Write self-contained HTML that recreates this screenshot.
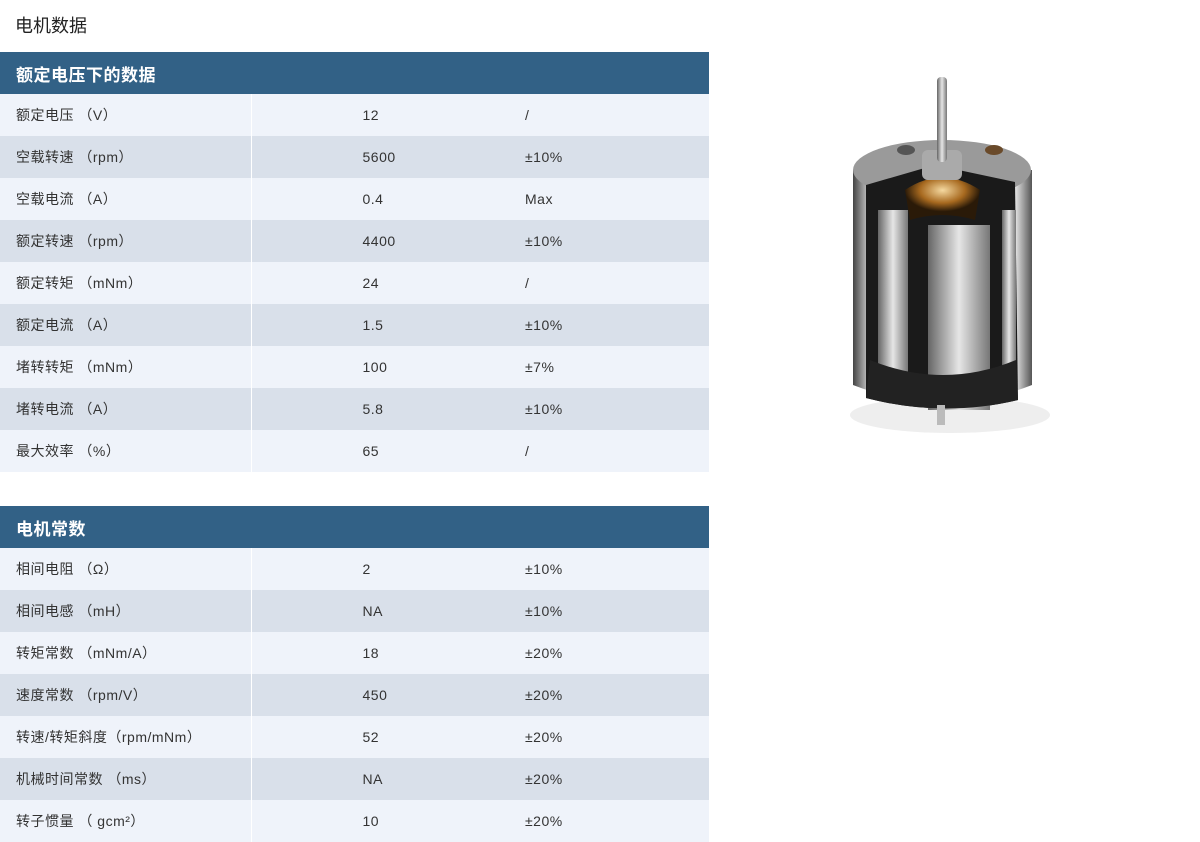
<!DOCTYPE html>
<html><head><meta charset="utf-8"><style>
body{margin:0;width:1200px;height:842px;background:#fff;font-family:"Liberation Sans","Noto Sans CJK SC",sans-serif;position:relative;overflow:hidden}
.t{position:absolute;left:15px;top:12px;font-size:18px;color:#222}
table{position:absolute;left:0;width:709px;border-collapse:collapse;font-size:14px;color:#333;letter-spacing:0.5px;table-layout:fixed}
th{background:#326186;color:#fff;text-align:left;font-size:17px;font-weight:bold;height:42px;padding:0 0 0 16px}
td{height:42px;padding:0;vertical-align:middle;line-height:40px}
td.a{padding-left:16px;border-right:1px solid #fff}
td.b{padding-left:111px}
tr.l td{background:#eff3fa}
tr.d td{background:#d9e0ea}
</style></head><body>
<div class="t">电机数据</div>
<table style="top:52px">
<colgroup><col style="width:251px"><col style="width:274px"><col style="width:184px"></colgroup>
<tr><th colspan="3">额定电压下的数据</th></tr>
<tr class="l"><td class="a">额定电压 （V）</td><td class="b">12</td><td>/</td></tr>
<tr class="d"><td class="a">空载转速 （rpm）</td><td class="b">5600</td><td>±10%</td></tr>
<tr class="l"><td class="a">空载电流 （A）</td><td class="b">0.4</td><td>Max</td></tr>
<tr class="d"><td class="a">额定转速 （rpm）</td><td class="b">4400</td><td>±10%</td></tr>
<tr class="l"><td class="a">额定转矩 （mNm）</td><td class="b">24</td><td>/</td></tr>
<tr class="d"><td class="a">额定电流 （A）</td><td class="b">1.5</td><td>±10%</td></tr>
<tr class="l"><td class="a">堵转转矩 （mNm）</td><td class="b">100</td><td>±7%</td></tr>
<tr class="d"><td class="a">堵转电流 （A）</td><td class="b">5.8</td><td>±10%</td></tr>
<tr class="l"><td class="a">最大效率 （%）</td><td class="b">65</td><td>/</td></tr>
</table>
<table style="top:506px">
<colgroup><col style="width:251px"><col style="width:274px"><col style="width:184px"></colgroup>
<tr><th colspan="3">电机常数</th></tr>
<tr class="l"><td class="a">相间电阻 （Ω）</td><td class="b">2</td><td>±10%</td></tr>
<tr class="d"><td class="a">相间电感 （mH）</td><td class="b">NA</td><td>±10%</td></tr>
<tr class="l"><td class="a">转矩常数 （mNm/A）</td><td class="b">18</td><td>±20%</td></tr>
<tr class="d"><td class="a">速度常数 （rpm/V）</td><td class="b">450</td><td>±20%</td></tr>
<tr class="l"><td class="a">转速/转矩斜度（rpm/mNm）</td><td class="b">52</td><td>±20%</td></tr>
<tr class="d"><td class="a">机械时间常数 （ms）</td><td class="b">NA</td><td>±20%</td></tr>
<tr class="l"><td class="a">转子惯量 （ gcm²）</td><td class="b">10</td><td>±20%</td></tr>
</table>
<svg style="position:absolute;left:830px;top:70px" width="250" height="370">
<defs>
<linearGradient id="m" x1="0" x2="1"><stop offset="0" stop-color="#444"/><stop offset=".1" stop-color="#ddd"/><stop offset=".3" stop-color="#888"/><stop offset=".7" stop-color="#bbb"/><stop offset=".9" stop-color="#eee"/><stop offset="1" stop-color="#555"/></linearGradient>
<radialGradient id="g" cx=".5" cy=".3"><stop offset="0" stop-color="#f5d9a0"/><stop offset=".6" stop-color="#a7691f"/><stop offset="1" stop-color="#2a1a08"/></radialGradient>
<linearGradient id="s" x1="0" x2="1"><stop offset="0" stop-color="#666"/><stop offset=".5" stop-color="#e6e6e6"/><stop offset="1" stop-color="#777"/></linearGradient>
</defs>
<ellipse cx="120" cy="345" rx="100" ry="18" fill="#eee"/>
<path d="M23 100 L23 315 Q113 350 202 315 L202 100 Z" fill="url(#m)"/>
<ellipse cx="112" cy="100" rx="89" ry="30" fill="#9a9a9a"/>
<path d="M36 115 L105 95 L185 112 L188 330 Q113 348 36 328 Z" fill="#1a1a1a"/>
<path d="M75 120 Q112 95 150 120 L145 150 Q112 140 80 150 Z" fill="url(#g)"/>
<path d="M48 140 L78 140 L78 330 L48 325 Z" fill="url(#s)"/>
<path d="M98 155 L160 155 L160 340 L98 340 Z" fill="url(#s)"/>
<path d="M172 140 L186 140 L186 330 L172 330 Z" fill="url(#s)"/>
<path d="M40 290 Q113 320 186 290 L188 330 Q113 348 36 328 Z" fill="#222"/>
<rect x="92" y="80" width="40" height="30" rx="6" fill="#aaa"/>
<rect x="107" y="7" width="10" height="85" rx="4" fill="url(#s)"/>
<ellipse cx="76" cy="80" rx="9" ry="5" fill="#555"/><ellipse cx="164" cy="80" rx="9" ry="5" fill="#6a4a2a"/>
<rect x="107" y="335" width="8" height="20" fill="#bbb"/>
</svg>
</body></html>
